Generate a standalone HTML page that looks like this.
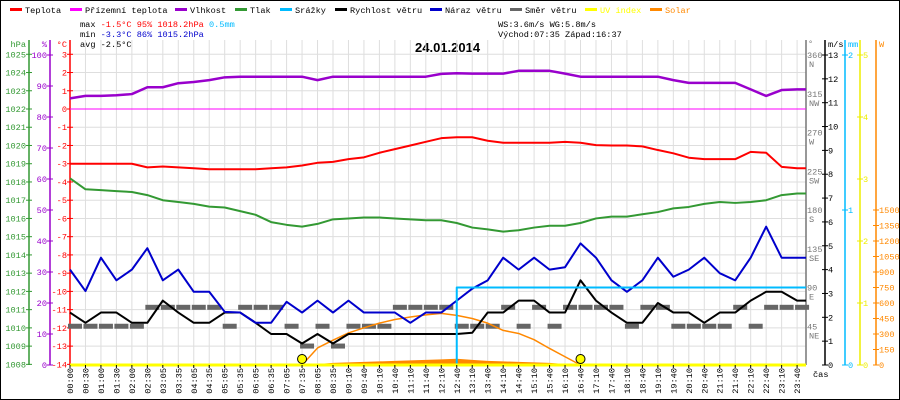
<!DOCTYPE html>
<html><head><meta charset="utf-8"><style>
body{margin:0;background:#fff}
svg{display:block;font-family:"Liberation Mono",monospace;font-size:8.6px}
</style></head><body>
<svg id="c" width="900" height="400" xmlns="http://www.w3.org/2000/svg">
<rect x="0.5" y="0.5" width="899" height="399" fill="#fff" stroke="#000"/>
<g id="legend"></g>
<g>
<text x="80" y="27" fill="#000">max <tspan fill="#f00">-1.5°C  95%  1018.2hPa</tspan>   <tspan fill="#0bf">0.5mm</tspan></text>
<text x="80" y="37" fill="#000">min <tspan fill="#00c">-3.3°C  86%  1015.2hPa</tspan></text>
<text x="80" y="47" fill="#000">avg -2.5°C</text>
<text x="498" y="27" fill="#000">WS:3.6m/s    WG:5.8m/s</text>
<text x="498" y="37" fill="#000">Východ:07:35  Západ:16:37</text>
</g>
<text x="415" y="52" font-size="13" font-weight="bold" fill="#000" font-family="Liberation Sans, sans-serif">24.01.2014</text>
<g id="grid"></g>
<g id="axes"></g>
<g id="series"></g>
<g id="xlabels"></g>
<text x="813" y="377" fill="#000">čas</text>
</svg>
<script>
const timeLabels=["00:00","00:30","01:00","01:30","02:00","02:30","03:05","03:35","04:05","04:35","05:05","05:35","06:05","06:35","07:05","07:35","08:05","08:35","09:10","09:40","10:10","10:40","11:10","11:40","12:10","12:40","13:10","13:40","14:10","14:40","15:10","15:40","16:10","16:40","17:10","17:40","18:10","18:40","19:10","19:40","20:10","20:40","21:10","21:40","22:10","22:40","23:10","23:40"];
const temperature=[-3.0,-3.0,-3.0,-3.0,-3.0,-3.2,-3.15,-3.2,-3.25,-3.3,-3.3,-3.3,-3.3,-3.25,-3.2,-3.1,-2.95,-2.9,-2.75,-2.65,-2.4,-2.2,-2.0,-1.8,-1.6,-1.55,-1.55,-1.74,-1.85,-1.85,-1.85,-1.85,-1.8,-1.85,-1.98,-2.0,-2.0,-2.05,-2.25,-2.43,-2.67,-2.75,-2.75,-2.75,-2.35,-2.4,-3.17,-3.25];
const humidity=[86,86.8,86.8,87,87.4,89.6,89.6,90.9,91.3,91.9,92.8,93,93,93,93,93,91.9,93,93,93,93,93,93,93,93.9,94.1,94,94,94,94.9,94.9,94.9,94,93,93,93,93,93,93,91.9,91,91,91,91,88.9,86.8,88.7,88.9];
const pressure=[1018.2,1017.6,1017.55,1017.5,1017.45,1017.28,1017.0,1016.9,1016.8,1016.65,1016.6,1016.4,1016.2,1015.8,1015.65,1015.55,1015.7,1015.95,1016.0,1016.05,1016.05,1016.0,1015.95,1015.9,1015.9,1015.75,1015.5,1015.4,1015.28,1015.35,1015.5,1015.6,1015.6,1015.75,1016.0,1016.1,1016.1,1016.23,1016.35,1016.55,1016.63,1016.8,1016.9,1016.85,1016.9,1017.0,1017.28,1017.37];
const windGust=[4.0,3.1,4.5,3.55,4.0,4.9,3.55,4.0,3.07,3.07,2.23,2.2,1.77,1.77,2.65,2.2,2.7,2.2,2.7,2.2,2.2,2.2,1.77,2.2,2.2,2.7,3.2,3.55,4.5,4.0,4.5,4.0,4.1,5.1,4.5,3.55,3.07,3.55,4.5,3.7,4.0,4.5,3.85,3.55,4.5,5.8,4.5,4.5];
const windSpeed=[2.2,1.77,2.2,2.2,1.77,1.77,2.7,2.2,1.77,1.77,2.2,2.2,1.77,1.3,1.3,0.9,1.3,0.9,1.3,1.3,1.3,1.3,1.3,1.3,1.3,1.3,1.35,2.2,2.2,2.7,2.7,2.2,2.2,3.55,2.7,2.2,1.77,1.77,2.6,2.2,2.2,1.77,2.2,2.2,2.7,3.07,3.07,2.7];
const windDir=[45,45,45,45,45,67,67,67,67,67,45,67,67,67,45,22,45,22,45,45,45,67,67,67,67,45,45,45,67,45,67,45,67,67,67,67,45,67,67,45,45,45,45,67,45,67,67,67];
const rain=[0,0,0,0,0,0,0,0,0,0,0,0,0,0,0,0,0,0,0,0,0,0,0,0,0,0.5,0.5,0.5,0.5,0.5,0.5,0.5,0.5,0.5,0.5,0.5,0.5,0.5,0.5,0.5,0.5,0.5,0.5,0.5,0.5,0.5,0.5,0.5];
const solarMax=[0,0,0,0,0,0,0,0,0,0,0,0,0,0,0,0,165,240,310,360,405,440,465,485,500,480,450,405,335,305,245,160,80,0,0,0,0,0,0,0,0,0,0,0,0,0,0,0];
const solar=[0,0,0,0,0,0,0,0,0,0,0,0,0,0,0,0,10,20,25,30,35,40,45,50,55,60,50,40,35,30,25,20,10,0,0,0,0,0,0,0,0,0,0,0,0,0,0,0];
const uv=new Array(48).fill(0);
const sunEvents=[15,33];
const dirLabels=[[360,"N"],[315,"NW"],[270,"W"],[225,"SW"],[180,"S"],[135,"SE"],[90,"E"],[45,"NE"]];

const NS="http://www.w3.org/2000/svg";
const X0=70,X1=806,YT=40,YB=365,DX=15.47;
const x=i=>X0+DX*i;
const yC=c=>109-18.24*c;
const yP=p=>yC(p-1022);
const yH=h=>YB-3.1*h;
const yW=w=>YB-w*310/13;
const yD=d=>YB-d*310/360;
const yR=r=>YB-r*155;
const yU=u=>YB-u*62;
const yS=s=>YB-s*310/3000;
function el(t,a,p){const e=document.createElementNS(NS,t);for(const k in a)e.setAttribute(k,a[k]);(p||document.getElementById('series')).appendChild(e);return e;}
function txt(p,s,a){const e=el('text',a,p);e.textContent=s;return e;}

const leg=document.getElementById('legend');
const legItems=[["Teplota","#f00",10],["Přízemní teplota","#f0f",70],["Vlhkost","#90c",175],["Tlak","#393",235],["Srážky","#0bf",280],["Rychlost větru","#000",335],["Náraz větru","#00c",430],["Směr větru","#666",510],["UV index","#ff0",585],["Solar","#f80",650]];
legItems.forEach(l=>{
 const g=el('g',{},leg);
 
 
 el('rect',{x:l[2],y:8,width:12,height:3,fill:l[1]},g);
 txt(g,l[0],{x:l[2]+15,y:13,fill:(l[0]=="UV index"||l[0]=="Solar")?l[1]:"#000"});
});

const grid=document.getElementById('grid');
for(let i=0;i<48;i++){const gl=el('line',{x1:x(i),x2:x(i),y1:YT,y2:YB,stroke:"#dedede"},grid);}
for(let c=-13;c<=3;c++){const gl=el('line',{x1:X0,x2:X1,y1:yC(c),y2:yC(c),stroke:"#dedede"},grid);}

const ax=document.getElementById('axes');
function axis(name,xx,color,ticks,fy,left,top){
 const g=el('g',{},ax);
 
 
 el('line',{x1:xx,x2:xx,y1:YT,y2:YB,stroke:color,"stroke-width":1.5},g);
 ticks.forEach(t=>{const yy=fy(t[0]);el('line',{x1:xx-3,x2:xx+3,y1:yy,y2:yy,stroke:color},g);
  txt(g,t[1],{x:left?xx-3:xx+3,y:yy+3,fill:color,"text-anchor":left?"end":"start"});});
 txt(g,top,{x:left?xx-3:xx+3,y:47,fill:color,"text-anchor":left?"end":"start"});
}
let t=[];for(let p=1008;p<=1025;p++)t.push([p,""+p]);axis('pressure-axis',29,"#393",t,yP,true,"hPa");
t=[];for(let h=0;h<=100;h+=10)t.push([h,""+h]);axis('humidity-axis',50,"#90c",t,yH,true,"%");
t=[];for(let c=-14;c<=3;c++)t.push([c,""+c]);axis('temperature-axis',70,"#f00",t,yC,true,"°C");
(function(){const g=el('g',{},ax);
 el('line',{x1:X1,x2:X1,y1:YT,y2:YB,stroke:"#777","stroke-width":1.5},g);
 txt(g,"°",{x:808,y:46,fill:"#777"});
 dirLabels.forEach(d=>{const yy=yD(d[0]);txt(g,""+d[0],{x:807,y:yy+3,fill:"#777"});txt(g,d[1],{x:809,y:yy+12,fill:"#777"});});})();
t=[];for(let w=0;w<=13;w++)t.push([w,""+w]);axis('wind-axis',825,"#000",t,yW,false,"m/s");
axis('rain-axis',845,"#0bf",[[0,"0"],[1,"1"],[2,"2"]],yR,false,"mm");
t=[];for(let u=0;u<=5;u++)t.push([u,""+u]);axis('uv-axis',860,"#ee0",t,yU,false,"");
t=[];for(let s=0;s<=1500;s+=150)t.push([s,""+s]);axis('solar-axis',876,"#f80",t,yS,false,"W");

const xl=document.getElementById('xlabels');
timeLabels.forEach((s,i)=>{const e=txt(xl,s,{x:0,y:0,fill:"#000","text-anchor":"end",transform:`translate(${x(i)+3},368) rotate(-90)`});
 
 el('line',{x1:x(i),x2:x(i),y1:YB,y2:YB+3,stroke:"#000"},xl);});

function line(arr,fy,color,w,name,step){
 let d="";arr.forEach((v,i)=>{const px=x(i),py=fy(v);if(i==0)d+=`M${px},${py}`;else if(step)d+=`H${px}V${py}`;else d+=`L${px},${py}`;});
 d+= step?`H${X1}`:`L${X1},${fy(arr[arr.length-1])}`;
 const p=el('path',{d:d,fill:"none",stroke:color,"stroke-width":w,"stroke-linejoin":"round"});
 return p;}
(function(){let d=`M${x(0)},${YB}`;solar.forEach((v,i)=>{d+=`L${x(i)},${yS(v)}`;});d+=`L${X1},${YB}Z`;
 const p=el('path',{d:d,fill:"#f80"});})();
(function(){const p=el('line',{x1:X0,x2:X1,y1:yC(0),y2:yC(0),stroke:"#f0f"});})();
windDir.forEach((d,i)=>{const r=el('rect',{x:x(i)-2,y:yD(d)-2.5,width:14,height:5,fill:"#666"});
 });
line(solarMax.slice(0,34),yS,"#f80",1.5,'solar-theoretical-line');
line(windSpeed,yW,"#000",2,'wind-speed-line');
line(windGust,yW,"#00c",2,'wind-gust-line');
line(rain,yR,"#0bf",2,'rain-line',true);
line(pressure,yP,"#393",2,'pressure-line');
line(temperature,yC,"#f00",2,'temperature-line');
line(humidity,yH,"#90c",2.5,'humidity-line');
line(uv,yU,"#ff0",3,'uv-line');
sunEvents.forEach(i=>{const c=el('circle',{cx:x(i),cy:359,r:4.5,fill:"#ff0",stroke:"#000"});
 });
</script>
</body></html>
